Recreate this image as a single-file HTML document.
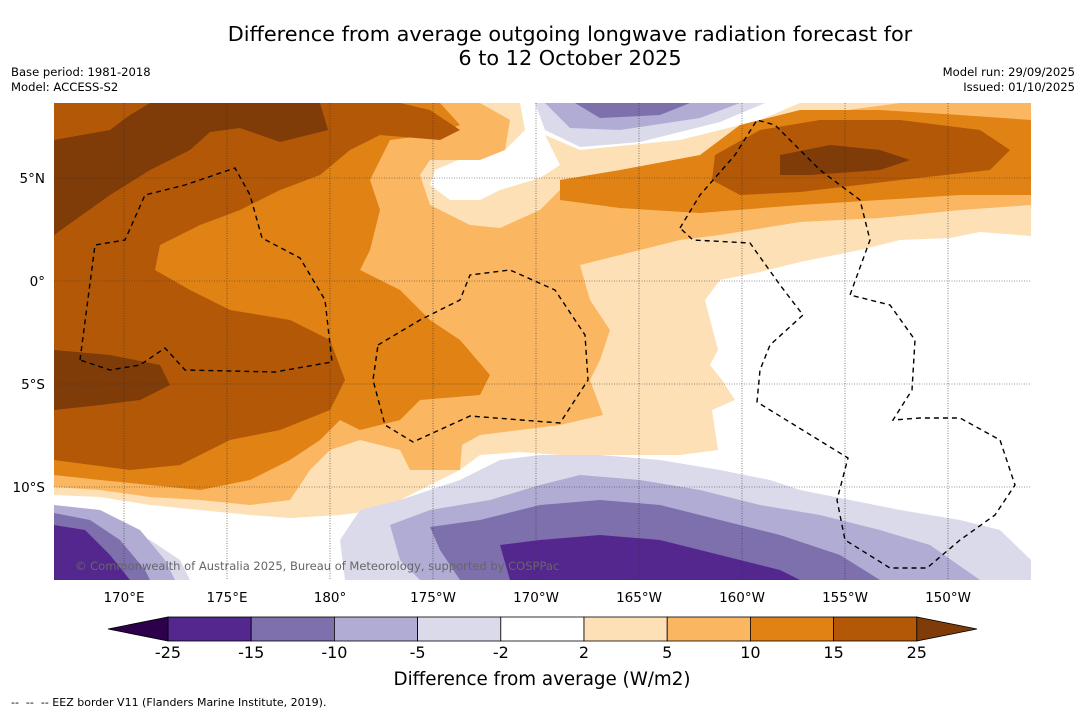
<!DOCTYPE html>
<html><head><meta charset="utf-8"><style>
body{margin:0;background:#fff;font-family:"DejaVu Sans","Liberation Sans",sans-serif;}
#root{position:relative;width:1085px;height:713px;overflow:hidden;}
.t{position:absolute;color:#000;}
svg text{font-family:"DejaVu Sans","Liberation Sans",sans-serif;white-space:pre;}
</style></head><body>
<div id="root">
<div class="t" style="left:0;width:1140px;top:22px;text-align:center;font-size:20.8px;line-height:24px;">Difference from average outgoing longwave radiation forecast for<br>6 to 12 October 2025</div>
<div class="t" style="left:11px;top:65px;font-size:11.6px;line-height:15px;">Base period: 1981-2018<br>Model: ACCESS-S2</div>
<div class="t" style="right:10px;top:65px;font-size:11.6px;line-height:15px;text-align:right;">Model run: 29/09/2025<br>Issued: 01/10/2025</div>
<svg id="map" width="1085" height="713" style="position:absolute;left:0;top:0">
<defs><clipPath id="clip"><rect x="54" y="103" width="977" height="477"/></clipPath></defs>
<g clip-path="url(#clip)">
<rect x="54" y="103" width="977" height="477" fill="#fff"/>
<path fill="#fde0b6" d="M54,103 L515,103 L530,103 L545,135 L580,150 L680,140 L760,120 L800,103 L1031,103 L1031,236 L980,232 L950,238 L900,240 L860,250 L800,262 L760,272 L720,280 L705,300 L718,350 L710,365 L722,380 L735,400 L712,410 L718,450 L680,455 L620,455 L560,455 L520,452 L480,455 L460,470 L420,490 L380,510 L340,515 L290,518 L250,515 L200,510 L150,505 L100,497 L54,495Z"/>
<path fill="#fff" d="M520,103 L540,103 L545,135 L560,165 L540,178 L500,190 L480,200 L450,200 L430,185 L435,170 L470,155 L505,150 L525,130Z"/>
<path fill="#fbb661" d="M54,103 L480,103 L510,120 L505,150 L480,160 L430,160 L420,175 L430,205 L470,225 L500,228 L540,210 L560,190 L620,175 L700,155 L760,135 L810,115 L900,103 L1031,103 L1031,205 L960,210 L880,218 L800,222 L720,235 L680,240 L640,250 L580,265 L590,300 L610,330 L600,360 L590,380 L603,415 L560,425 L480,435 L462,445 L460,470 L410,470 L400,450 L360,440 L330,450 L310,470 L290,500 L250,505 L200,500 L150,497 L100,490 L54,487Z"/>
<path fill="#e08214" d="M54,103 L440,103 L460,125 L430,135 L390,140 L370,180 L380,210 L370,250 L360,270 L400,290 L430,320 L460,340 L490,375 L480,395 L420,400 L400,420 L360,430 L340,420 L320,440 L290,460 L250,480 L200,490 L150,485 L100,480 L54,475Z M560,180 L620,170 L700,155 L740,125 L800,110 L880,110 L960,115 L1031,120 L1031,195 L960,195 L880,200 L800,205 L700,213 L620,208 L560,200Z"/>
<path fill="#b35806" d="M54,103 L400,103 L430,110 L460,130 L440,140 L380,135 L350,150 L320,175 L280,190 L240,210 L200,225 L160,245 L155,270 L190,290 L230,310 L290,320 L330,340 L345,380 L330,410 L280,430 L230,440 L180,465 L130,470 L54,460Z M715,155 L760,130 L820,120 L900,120 L980,130 L1010,150 L990,170 L900,180 L800,192 L740,195 L712,180Z"/>
<path fill="#7f3b08" d="M54,140 L110,130 L130,115 L150,103 L320,103 L328,130 L280,142 L240,128 L210,132 L190,150 L150,170 L110,195 L54,235Z M54,350 L110,355 L160,365 L170,385 L140,400 L100,405 L54,410Z M780,155 L830,145 L880,150 L910,160 L880,170 L810,175 L780,175Z"/>
<path fill="#dadaeb" d="M535,103 L765,103 L720,122 L640,142 L580,147 L545,130Z"/>
<path fill="#b1acd4" d="M545,103 L740,103 L700,118 L620,130 L570,128Z"/>
<path fill="#7e6fad" d="M575,103 L690,103 L660,115 L600,118Z"/>
<path fill="#dadaeb" d="M340,540 L360,510 L400,500 L460,480 L500,460 L540,455 L600,455 L660,460 L720,470 L770,480 L800,490 L850,500 L900,510 L960,520 L1000,530 L1031,560 L1031,580 L345,580Z M54,515 L100,520 L150,540 L180,560 L190,580 L54,580Z"/>
<path fill="#b1acd4" d="M390,525 L430,510 L490,500 L540,485 L580,475 L640,480 L700,490 L760,505 L820,515 L880,530 L930,545 L980,580 L420,580 L400,560Z M54,505 L100,510 L140,530 L165,560 L175,580 L54,580Z"/>
<path fill="#7e6fad" d="M430,527 L480,520 L540,505 L600,500 L660,505 L720,520 L780,535 L840,555 L880,580 L460,580 L440,550Z M54,513 L90,520 L120,540 L145,570 L150,580 L54,580Z"/>
<path fill="#54278f" d="M500,545 L540,540 L600,535 L660,540 L720,555 L780,570 L800,580 L510,580Z M54,525 L85,530 L110,555 L130,580 L54,580Z"/>
<g id="grid" stroke="#333" stroke-width="0.6" stroke-dasharray="1,1.5"></g>
<g fill="none" stroke="#000" stroke-width="1.4" stroke-dasharray="5,4">
<path d="M80,360 L95,245 L125,240 L145,195 L185,185 L235,168 L250,195 L262,238 L300,258 L325,300 L332,362 L275,372 L185,370 L165,348 L140,365 L110,370 L80,360"/>
<path d="M378,345 L420,320 L460,300 L470,275 L510,270 L555,290 L585,335 L588,380 L560,423 L470,416 L413,442 L385,425 L373,380 Z"/>
<path d="M680,228 L700,195 L735,155 L757,120 L775,125 L820,170 L860,200 L870,240 L850,295 L890,305 L915,340 L912,390 L893,420 L920,418 L960,418 L1000,440 L1015,485 L995,515 L960,540 L927,568 L890,568 L845,540 L837,500 L848,458 L757,402 L760,370 L770,345 L803,315 L780,285 L750,243 L693,240 Z"/>
</g>
<text x="75" y="570" font-size="11.5" fill="#666">© Commonwealth of Australia 2025, Bureau of Meteorology, supported by COSPPac</text>
</g>
<g id="axes" font-size="13.5" fill="#000"></g>
<g id="cbar"></g>
<text x="542" y="685" text-anchor="middle" font-size="18.3">Difference from average (W/m2)</text>
<text x="11" y="706" font-size="11">--  --  -- EEZ border V11 (Flanders Marine Institute, 2019).</text>
</svg>
</div>
<script>
const lonLabels=["170°E","175°E","180°","175°W","170°W","165°W","160°W","155°W","150°W"];
const lonValues=[170,175,180,185,190,195,200,205,210];
const latLabels=["5°N","0°","5°S","10°S"];
const latValues=[5,0,-5,-10];
const levels=[-25,-15,-10,-5,-2,2,5,10,15,25];
const colors=["#54278f","#7e6fad","#b1acd4","#dadaeb","#ffffff","#fde0b6","#fbb661","#e08214","#b35806"];
const NS="http://www.w3.org/2000/svg";
const xLon=l=>124+(l-170)*20.6, yLat=v=>281-v*20.6;
const grid=document.getElementById('grid'), axes=document.getElementById('axes'), cb=document.getElementById('cbar');
function mk(tag,attrs,parent){const e=document.createElementNS(NS,tag);for(const k in attrs)e.setAttribute(k,attrs[k]);parent.appendChild(e);return e;}
lonValues.forEach((v,i)=>{const x=xLon(v);
 const l=mk('line',{x1:x,x2:x,y1:103,y2:580},grid);
 
 
 const t=mk('text',{x:x,y:602,'text-anchor':'middle'},axes);t.textContent=lonLabels[i];
 
 });
latValues.forEach((v,i)=>{const y=yLat(v);
 const l=mk('line',{x1:54,x2:1031,y1:y,y2:y},grid);
 
 
 const t=mk('text',{x:45,y:y+5,'text-anchor':'end'},axes);t.textContent=latLabels[i];
 
 });
const cx0=168,cw=83.2,cy=617,ch=24;
colors.forEach((c,i)=>{const r=mk('rect',{x:cx0+i*cw,y:cy,width:cw,height:ch,fill:c,stroke:'#000','stroke-width':0.8},cb);
 
 });
const lo=mk('polygon',{points:`${cx0},${cy} ${cx0},${cy+ch} 108,${cy+ch/2}`,fill:'#2d004b',stroke:'#000','stroke-width':0.8},cb);


const hx=cx0+colors.length*cw;
const hi=mk('polygon',{points:`${hx},${cy} ${hx},${cy+ch} 977,${cy+ch/2}`,fill:'#7f3b08',stroke:'#000','stroke-width':0.8},cb);


levels.forEach((v,i)=>{const t=mk('text',{x:cx0+i*cw,y:658,'text-anchor':'middle','font-size':16},cb);t.textContent=v;
 
 });
</script>
</body></html>
